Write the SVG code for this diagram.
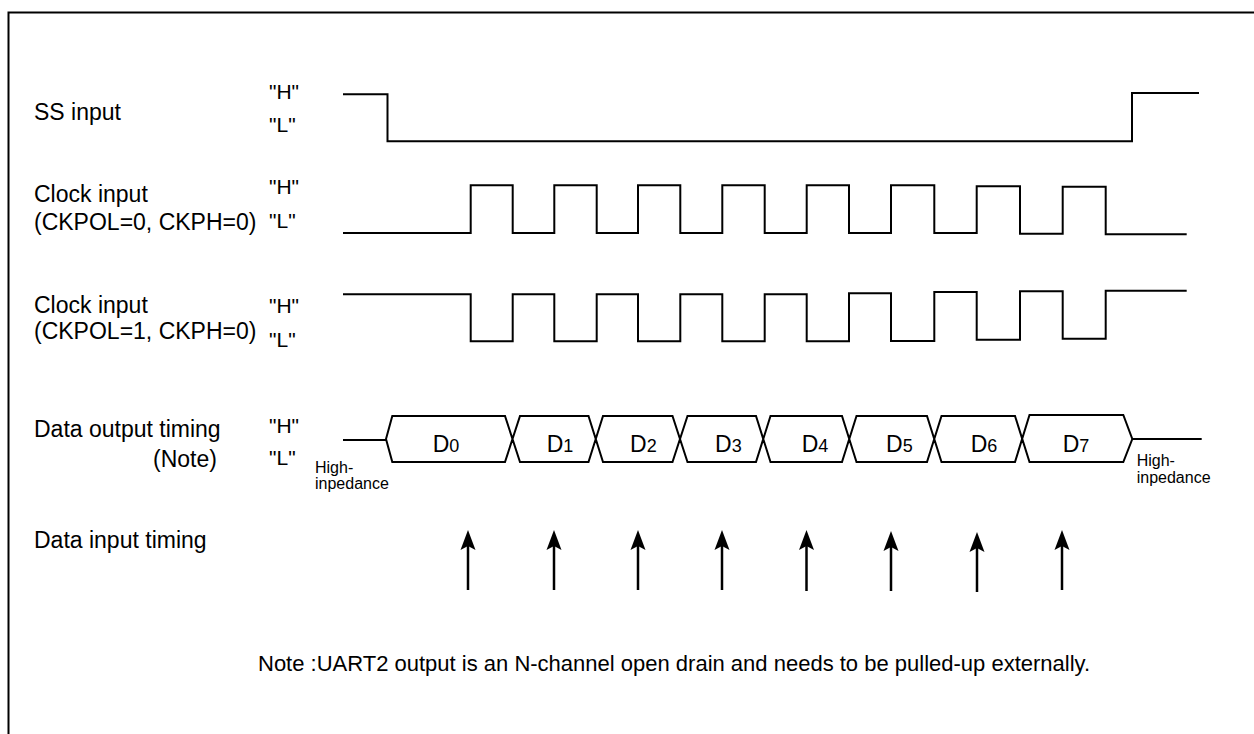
<svg xmlns="http://www.w3.org/2000/svg" width="1254" height="734" viewBox="0 0 1254 734">
<style>
.lbl{font-family:"Liberation Sans",Arial,sans-serif;font-size:23px;fill:#000}
.hl{font-family:"Liberation Sans",Arial,sans-serif;font-size:21px;fill:#000}
.hz{font-family:"Liberation Sans",Arial,sans-serif;font-size:16px;fill:#000}
.d{font-family:"Liberation Sans",Arial,sans-serif;font-size:23px;fill:#000}
.d tspan{font-size:18px}
.note{font-family:"Liberation Sans",Arial,sans-serif;font-size:22px;fill:#000}
.w{fill:none;stroke:#000;stroke-width:2;stroke-linejoin:miter}
.ar{stroke:#000;stroke-width:2.5}
</style>
<rect width="1254" height="734" fill="#fff"/>
<path d="M8.5,734 V12.5 H1254" fill="none" stroke="#000" stroke-width="2"/>

<g id="ss">
<text class="lbl" x="34" y="120">SS input</text>
<text class="hl" x="269" y="99">"H"</text>
<text class="hl" x="269" y="132">"L"</text>
<path class="w" d="M343,94.3 H387.5 V141.3 H1132 V93 H1199"/>
</g>

<g id="clk0">
<text class="lbl" x="34" y="202">Clock input</text>
<text class="lbl" x="34" y="230">(CKPOL=0, CKPH=0)</text>
<text class="hl" x="269" y="194">"H"</text>
<text class="hl" x="269" y="228">"L"</text>
<path class="w" d="M343,233 H470.7 V185.3 H512.7 V233 H554.3 V185.3 H596.7 V233 H638 V185.3 H680.3 V233 H722.3 V185.3 H764.7 V233 H806.7 V185.3 H849 V233 H891 V185.3 H934.3 V233 H976.7 V186.3 H1020 V233.7 H1062.7 V186.7 H1105.7 V234.3 H1186.7"/>
</g>

<g id="clk1">
<text class="lbl" x="34" y="313">Clock input</text>
<text class="lbl" x="34" y="339">(CKPOL=1, CKPH=0)</text>
<text class="hl" x="269" y="313">"H"</text>
<text class="hl" x="269" y="347">"L"</text>
<path class="w" d="M343,294.3 H470.7 V341.3 H512.7 V294.3 H554.3 V341.3 H596.7 V294.3 H638 V341.3 H680.3 V294.3 H722.3 V341.3 H764.7 V294.3 H806.7 V341.3 H849 V293.3 H891 V341 H934.3 V292 H976.7 V339.7 H1020 V291.3 H1062.7 V338.7 H1105.7 V290.7 H1186.7"/>
</g>

<g id="dout">
<text class="lbl" x="34" y="437">Data output timing</text>
<text class="lbl" x="153" y="467">(Note)</text>
<text class="hl" x="269" y="433">"H"</text>
<text class="hl" x="269" y="465">"L"</text>
<path class="w" d="M343,440 H386"/>
<path class="w" d="M386,439 L392.3,416 H505 L520,462 H588.5 L603,416 H672.5 L687.5,462 H756 L770.5,416 H842 L856.5,462 H927 L941.5,416 H1015 L1029.5,462 H1123.3 L1132.3,439 L1123.3,415 H1029.5 L1015,462 H941.5 L927,416 H856.5 L842,462 H770.5 L756,416 H687.5 L672.5,462 H603 L588.5,416 H520 L505,462 H392.3 Z"/>
<path class="w" d="M1132.3,439 H1201.7"/>
<text class="d" x="432.7" y="451.7">D<tspan>0</tspan></text>
<text class="d" x="546.7" y="451.7">D<tspan>1</tspan></text>
<text class="d" x="630" y="451.7">D<tspan>2</tspan></text>
<text class="d" x="715" y="451.7">D<tspan>3</tspan></text>
<text class="d" x="801.7" y="451.7">D<tspan>4</tspan></text>
<text class="d" x="886" y="451.7">D<tspan>5</tspan></text>
<text class="d" x="970.7" y="451.7">D<tspan>6</tspan></text>
<text class="d" x="1062.7" y="451.7">D<tspan>7</tspan></text>
<text class="hz" x="315" y="473">High-</text>
<text class="hz" x="315" y="489">inpedance</text>
<text class="hz" x="1136.7" y="466">High-</text>
<text class="hz" x="1136.7" y="483">inpedance</text>
</g>

<g id="din">
<text class="lbl" x="34" y="548">Data input timing</text>
</g>

<defs>
<path id="ah" d="M0,0 L-7.5,20 L0,16 L7.5,20 Z" fill="#000"/>
</defs>
<g id="arrows">
<line class="ar" x1="468" y1="590" x2="468" y2="545"/><use href="#ah" x="468" y="530"/>
<line class="ar" x1="554" y1="590" x2="554" y2="545"/><use href="#ah" x="554" y="530"/>
<line class="ar" x1="638" y1="590" x2="638" y2="545"/><use href="#ah" x="638" y="530"/>
<line class="ar" x1="722" y1="590" x2="722" y2="545"/><use href="#ah" x="722" y="530"/>
<line class="ar" x1="806.5" y1="591" x2="806.5" y2="545"/><use href="#ah" x="806.5" y="530"/>
<line class="ar" x1="891" y1="591" x2="891" y2="546"/><use href="#ah" x="891" y="531"/>
<line class="ar" x1="977" y1="592" x2="977" y2="547"/><use href="#ah" x="977" y="532"/>
<line class="ar" x1="1062" y1="590" x2="1062" y2="545"/><use href="#ah" x="1062" y="530"/>
</g>

<g id="note">
<text class="note" x="258" y="671">Note :UART2 output is an N-channel open drain and needs to be pulled-up externally.</text>
</g>
</svg>
